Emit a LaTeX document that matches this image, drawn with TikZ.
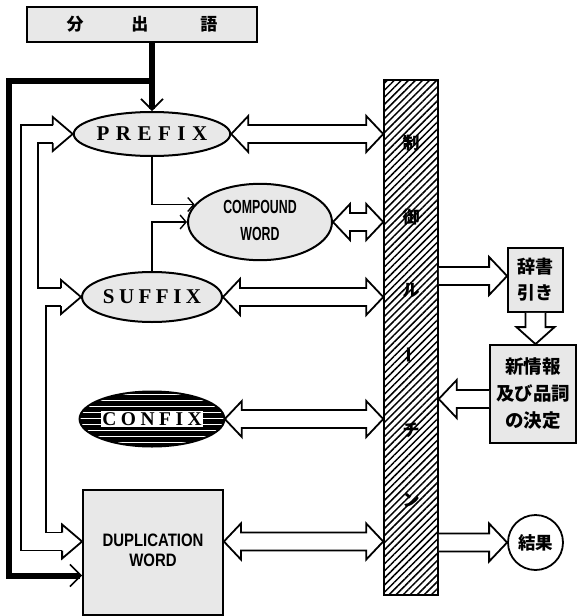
\documentclass[tikz,border=0pt]{standalone}
\usepackage{fontspec}
\usepackage{graphicx}
\newfontfamily\jp{Noto Sans CJK JP}
\newfontfamily\lsans{Liberation Sans}
\newfontfamily\lserif{Liberation Serif}
\usetikzlibrary{shapes.geometric,arrows.meta,patterns.meta,calc}

\tikzset{
  box/.style={draw, line width=1.8pt, fill=black!9, inner sep=0pt},
  oval/.style={ellipse, draw, line width=2pt, fill=black!9, inner sep=0pt},
  hollow/.style={draw, line width=1.8pt, fill=white, line join=miter},
  bus/.style={line width=1.8pt},
  heavy/.style={line width=6pt},
  heavybarb/.style={-{Straight Barb[length=11pt,width=22pt,line width=1.6pt]}},
  thinarrow/.style={line width=1.8pt, -{Straight Barb[length=6pt,width=14pt,line width=1.4pt]}},
  spaced/.style={font=\lserif\bfseries\fontsize{21}{21}\selectfont},
  barchar/.style={font=\jp\bfseries\fontsize{17}{17}\selectfont, inner sep=0pt},
}

% double-headed hollow arrow, horizontal, y taken from #1
\newcommand\dblarrow[2]{\path[hollow] let \p1=(#1), \p2=(#2) in
  (\x1,\y1) -- (\x1+17pt,\y1+18pt) -- (\x1+17pt,\y1+9pt) -- (\x2-17pt,\y1+9pt)
  -- (\x2-17pt,\y1+18pt) -- (\x2,\y1) -- (\x2-17pt,\y1-18pt) -- (\x2-17pt,\y1-9pt)
  -- (\x1+17pt,\y1-9pt) -- (\x1+17pt,\y1-18pt) -- cycle;}
% rightward single hollow arrow, y taken from the tip #2
\newcommand\rarrow[2]{\path[hollow] let \p1=(#1), \p2=(#2) in
  (\x1,\y2+9pt) -- (\x2-18pt,\y2+9pt) -- (\x2-18pt,\y2+19pt) -- (\x2,\y2)
  -- (\x2-18pt,\y2-19pt) -- (\x2-18pt,\y2-9pt) -- (\x1,\y2-9pt);}
% leftward single hollow arrow, y taken from the start #1
\newcommand\larrow[2]{\path[hollow] let \p1=(#1), \p2=(#2) in
  (\x1,\y1+9pt) -- (\x2+18pt,\y1+9pt) -- (\x2+18pt,\y1+19pt) -- (\x2,\y1)
  -- (\x2+18pt,\y1-19pt) -- (\x2+18pt,\y1-9pt) -- (\x1,\y1-9pt);}
% downward single hollow arrow, x taken from the start #1
\newcommand\darrow[2]{\path[hollow] let \p1=(#1), \p2=(#2) in
  (\x1-10pt,\y1) -- (\x1-10pt,\y2+17pt) -- (\x1-19pt,\y2+17pt) -- (\x1,\y2)
  -- (\x1+19pt,\y2+17pt) -- (\x1+10pt,\y2+17pt) -- (\x1+10pt,\y1);}
% open head of the left bus
\newcommand\bushead[1]{\draw[bus] let \p1=(#1) in
  (\x1-20pt,\y1+9pt) -- (\x1-20pt,\y1+17pt) -- (\x1,\y1) -- (\x1-20pt,\y1-17pt) -- (\x1-20pt,\y1-9pt);}

\begin{document}
\begin{tikzpicture}[x=1pt,y=-1pt]
\useasboundingbox (0,0) rectangle (577,616);

% top box
\node[box, minimum width=230pt, minimum height=35pt,
      font=\jp\bfseries\fontsize{17}{17}\selectfont] (top) at (142,24.5)
      {分\hspace{48pt}出\hspace{52pt}語};

% control routine bar
\node[draw, line width=2pt, minimum width=54pt, minimum height=515pt, inner sep=0pt,
      pattern={Lines[angle=45,distance=5pt,line width=1.5pt]}] (bar) at (411,337.5) {};
\node[barchar] (b1) at (411,143) {制};
\node[barchar] (b2) at (411,217) {御};
\node[barchar] (b3) at (411,290) {ル};
\node[barchar] (b4) at (411,355) {\rotatebox{90}{ー}};
\node[barchar] (b5) at (411,430) {チ};
\node[barchar] (b6) at (411,500) {ン};

% ovals
\node[oval, minimum width=142pt, minimum height=44pt, spaced] (prefix) at (152,134)
  {P\kern6.5pt R\kern6.5pt E\kern6.5pt F\kern6.5pt I\kern6.5pt X};
\node[oval, minimum width=144pt, minimum height=70pt,
      font=\lsans\bfseries\fontsize{19}{27}\selectfont] (compound) at (260,222)
  {\scalebox{0.65}[1]{\begin{tabular}{@{}c@{}}COMPOUND\\WORD\end{tabular}}};
\node[oval, minimum width=140pt, minimum height=50pt, spaced] (suffix) at (152,297)
  {S\kern4.5pt U\kern4.5pt F\kern4.5pt F\kern4.5pt I\kern4.5pt X};
\node[ellipse, draw, line width=2pt, inner sep=0pt, minimum width=140pt, minimum height=55pt,
      preaction={fill=black},
      pattern={Lines[angle=0,distance=6pt,line width=0.8pt]}, pattern color=white,
      font=\lserif\bfseries\fontsize{19.5}{19.5}\selectfont] (confix) at (152,419)
  {\setlength{\fboxsep}{1.5pt}\colorbox{white}{C\kern4.5pt O\kern4.5pt N\kern4.5pt F\kern4.5pt I\kern4.5pt X}};

% duplication word box
\node[box, minimum width=140pt, minimum height=125pt,
      font=\lsans\bfseries\fontsize{18}{20}\selectfont] (dup) at (153,552.5)
  {\raisebox{4pt}{\scalebox{0.83}[1]{\begin{tabular}{@{}c@{}}DUPLICATION\\WORD\end{tabular}}}};

% right side boxes
\node[box, minimum width=55pt, minimum height=64pt,
      font=\jp\bfseries\fontsize{18}{26}\selectfont, align=center] (dict) at (535.5,280)
  {辞書\\引き};
\node[box, minimum width=86pt, minimum height=98pt,
      font=\jp\bfseries\fontsize{18.5}{27}\selectfont, align=center] (newinfo) at (533,394)
  {新情報\\及び品詞\\の決定};
\node[circle, draw, line width=1.8pt, fill=white, minimum size=55pt, inner sep=0pt,
      font=\jp\bfseries\fontsize{17.5}{17.5}\selectfont] (result) at (535.5,542.5) {結果};

% heavy flow from the top box
\coordinate (j) at ($(top.south -| prefix.north)+(0,38)$);
\draw[heavy] (top.south -| prefix.north) -- (j);
\draw[heavy, heavybarb] (j) -- (prefix.north);
\draw[heavy, heavybarb] (j) -- ++(-143,0) |- ([yshift=-23pt]dup.west);

% thin connectors into the compound word
\draw[thinarrow] (prefix.south) |- (compound.165);
\draw[thinarrow] (suffix.north) |- (compound.west);

% left hollow bus
\coordinate (dupin) at ([yshift=11pt]dup.west);
\coordinate (pt) at ([shift={(-20pt,9pt)}]prefix.west);
\coordinate (pb) at ([shift={(-20pt,-9pt)}]prefix.west);
\coordinate (st) at ([shift={(-20pt,9pt)}]suffix.west);
\coordinate (sb) at ([shift={(-20pt,-9pt)}]suffix.west);
\coordinate (dt) at ([shift={(-20pt,9pt)}]dupin);
\coordinate (db) at ([shift={(-20pt,-9pt)}]dupin);
\draw[bus] (pt) -- ++(-32,0) |- (db);
\draw[bus] (pb) -- ++(-15,0) |- (st);
\draw[bus] (sb) -- ++(-15,0) |- (dt);
\bushead{prefix.west}
\bushead{suffix.west}
\bushead{dupin}

% hollow arrows to and from the bar
\dblarrow{prefix.east}{bar.west}
\dblarrow{compound.east}{bar.west}
\dblarrow{suffix.east}{bar.west}
\dblarrow{confix.east}{bar.west}
\dblarrow{[yshift=11pt]dup.east}{bar.west}
\rarrow{bar.east}{[yshift=4pt]dict.west}
\darrow{dict.south}{newinfo.north}
\larrow{[yshift=-5pt]newinfo.west}{bar.east}
\rarrow{bar.east}{result.west}
\end{tikzpicture}
\end{document}
